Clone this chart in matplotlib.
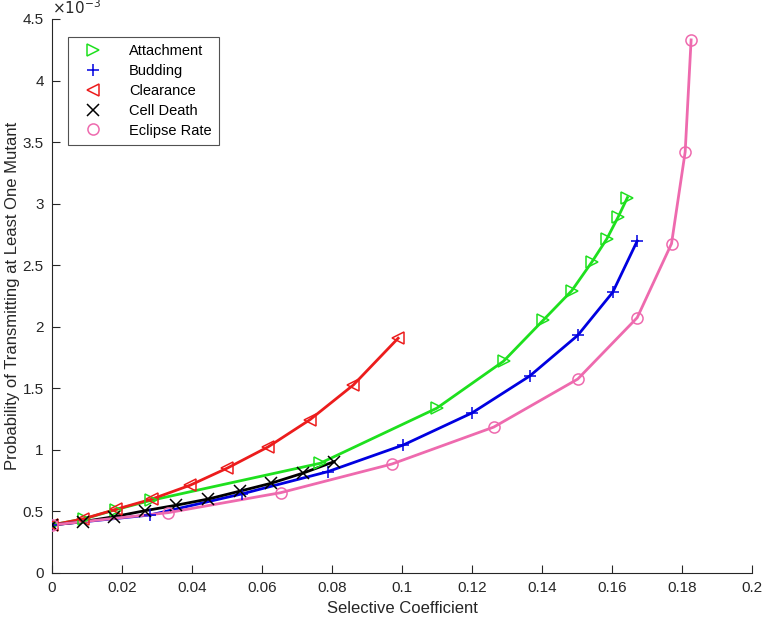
import matplotlib
matplotlib.use("Agg")
import matplotlib.pyplot as plt
from matplotlib.ticker import FixedLocator, FuncFormatter
from matplotlib.legend_handler import HandlerLine2D
from matplotlib.lines import Line2D

# Data (y in units of 1e-3)
att_x = [0.0, 0.0092, 0.0183, 0.0283, 0.0766, 0.1099, 0.1290, 0.1404, 0.1485, 0.1542, 0.1585, 0.1618, 0.1644]
att_y = [0.39, 0.44, 0.515, 0.59, 0.891, 1.338, 1.72, 2.055, 2.293, 2.524, 2.713, 2.894, 3.049]

bud_x = [0.0, 0.0280, 0.0542, 0.0788, 0.1004, 0.1200, 0.1365, 0.1502, 0.1602, 0.1672]
bud_y = [0.39, 0.471, 0.642, 0.823, 1.04, 1.30, 1.60, 1.93, 2.28, 2.697]

clr_x = [0.0, 0.0089, 0.0183, 0.0285, 0.0394, 0.0501, 0.0618, 0.0737, 0.0861, 0.0989]
clr_y = [0.39, 0.439, 0.517, 0.600, 0.712, 0.852, 1.025, 1.245, 1.527, 1.907]

cd_x = [0.0, 0.0089, 0.0177, 0.0266, 0.0354, 0.0447, 0.0537, 0.0625, 0.0716, 0.0806]
cd_y = [0.39, 0.417, 0.457, 0.506, 0.550, 0.601, 0.665, 0.728, 0.810, 0.904]

ecl_x = [0.0, 0.0332, 0.0653, 0.0971, 0.1262, 0.1502, 0.1672, 0.1770, 0.1809, 0.1826]
ecl_y = [0.39, 0.490, 0.652, 0.885, 1.185, 1.575, 2.074, 2.675, 3.420, 4.330]

series = [
    ("Attachment", att_x, att_y, "#1ee01e", ">"),
    ("Budding", bud_x, bud_y, "#0000e0", "+"),
    ("Clearance", clr_x, clr_y, "#ec1c1c", "<"),
    ("Cell Death", cd_x, cd_y, "#000000", "x"),
    ("Eclipse Rate", ecl_x, ecl_y, "#ee6aae", "o"),
]

xticks = [0, 0.02, 0.04, 0.06, 0.08, 0.1, 0.12, 0.14, 0.16, 0.18, 0.2]
yticks = [0, 0.5, 1, 1.5, 2, 2.5, 3, 3.5, 4, 4.5]

plt.rcParams['font.family'] = ['Liberation Sans', 'DejaVu Sans']

fig = plt.figure(figsize=(7.62, 6.22), dpi=100)
ax = fig.add_axes([0.0682, 0.0788, 0.9187, 0.8907])

for name, xs, ys, col, mk in series:
    ax.plot(xs, ys, color=col, lw=2, zorder=2)
for name, xs, ys, col, mk in series:
    ax.plot(xs, ys, linestyle='none', marker=mk, markersize=8,
            markerfacecolor='none', markeredgecolor=col, markeredgewidth=1.1,
            label=name, zorder=3)

ax.set_xlim(0, 0.2)
ax.set_ylim(0, 4.5)
ax.xaxis.set_major_locator(FixedLocator(xticks))
ax.yaxis.set_major_locator(FixedLocator(yticks))
ax.xaxis.set_major_formatter(FuncFormatter(lambda v, p: "%g" % round(v, 4)))
ax.yaxis.set_major_formatter(FuncFormatter(lambda v, p: "%g" % round(v, 4)))
ax.tick_params(direction='in', length=6, width=0.8, labelsize=11, colors='#262626',
               top=False, right=False, pad=6)
for s in ['top', 'right']:
    ax.spines[s].set_visible(False)
for s in ['left', 'bottom']:
    ax.spines[s].set_color('#262626')
    ax.spines[s].set_linewidth(0.8)

ax.set_xlabel("Selective Coefficient", fontsize=12, color='#262626', labelpad=4)
ax.set_ylabel("Probability of Transmitting at Least One Mutant", fontsize=12,
              color='#262626', labelpad=2)

ax.text(0.0, 1.003, r"$\times10^{-3}$", transform=ax.transAxes, fontsize=11,
        color='#262626', ha='left', va='bottom')

leg = ax.legend(loc='upper left', bbox_to_anchor=(0.0225, 0.9675), borderaxespad=0,
                fontsize=10.5, frameon=True, fancybox=False, edgecolor='#262626',
                handletextpad=0.8, borderpad=0.5, labelspacing=0.4,
                handlelength=2.9,
                handler_map={Line2D: HandlerLine2D(xpad=-0.49)})
leg.get_frame().set_linewidth(0.8)

fig.savefig("out.png", dpi=100)
